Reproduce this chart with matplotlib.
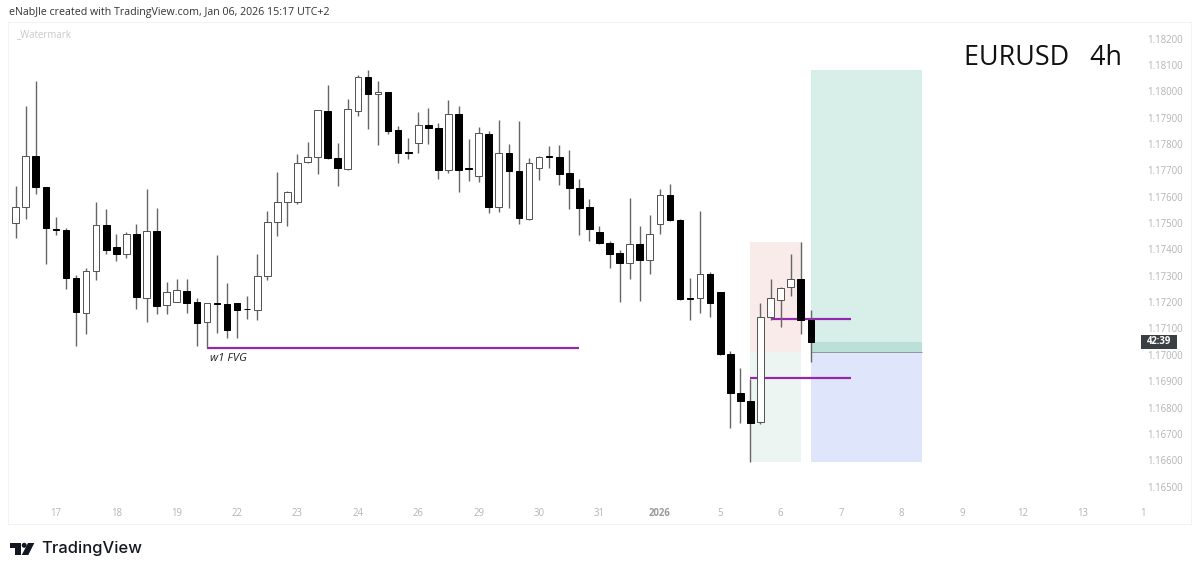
import matplotlib
matplotlib.use("Agg")
import matplotlib.pyplot as plt
from matplotlib.patches import Rectangle, Circle, Polygon

# candle values, in price * 1e5
opens = [117501,117560,117756,117638,117476,117474,117290,117158,117317,117494,117408,117384,117457,117217,117469,117188,117201,117242,117199,117123,
         117196,117192,117197,117174,117170,117298,117505,117581,117579,117731,117751,117927,117746,117705,117927,118053,117989,117998,117852,117770,
         117803,117871,117862,117700,117915,117709,117679,117839,117560,117765,117699,117517,117708,117755,117751,117689,117634,117561,117466,117423,
         117385,117348,117419,117358,117496,117607,117510,117215,117217,117308,117239,117003,116855,116823,116744,117144,117207,117256,117289,117132]
highs = [117641,117945,118040,117638,117522,117480,117303,117331,117580,117555,117459,117466,117495,117628,117557,117278,117287,117287,117217,117196,
         117378,117273,117198,117222,117383,117546,117694,117622,117761,117807,117929,118023,117805,117970,118063,118081,118041,117998,117870,117822,
         117920,117936,117879,117967,117944,117818,117863,117851,117890,117801,117888,117746,117753,117791,117796,117777,117669,117593,117490,117433,
         117397,117595,117487,117530,117629,117648,117514,117290,117547,117313,117239,117014,116950,116910,117196,117287,117256,117383,117427,117170]
lows = [117444,117517,117610,117346,117454,117250,117034,117079,117284,117384,117355,117369,117173,117126,117155,117155,117199,117158,117035,117025,
        117084,117063,117065,117137,117131,117284,117452,117489,117573,117729,117688,117745,117640,117700,117905,117858,117798,117837,117728,117745,
        117767,117801,117667,117691,117617,117660,117655,117537,117542,117557,117495,117511,117665,117708,117645,117555,117454,117433,117420,117329,
        117200,117286,117203,117305,117459,117509,117208,117133,117160,117144,117000,116723,116741,116594,116737,117132,117107,117224,117079,116972]
closes = [117560,117756,117638,117480,117474,117292,117161,117317,117494,117398,117384,117459,117220,117469,117185,117237,117245,117198,117120,117196,
          117193,117096,117170,117172,117299,117505,117581,117619,117729,117752,117928,117746,117708,117932,118053,117991,117998,117851,117766,117765,
          117872,117861,117703,117915,117700,117704,117842,117560,117765,117698,117519,117727,117752,117751,117688,117632,117559,117478,117423,117382,
          117348,117420,117358,117458,117607,117511,117213,117213,117308,117195,117003,116855,116824,116743,117144,117217,117255,117287,117134,117049]

price_ticks = [1.165, 1.166, 1.167, 1.168, 1.169, 1.170, 1.171, 1.172, 1.173, 1.174, 1.175,
               1.176, 1.177, 1.178, 1.179, 1.180, 1.181, 1.182]
time_ticks = [4, 10, 16, 22, 28, 34, 40, 46, 52, 58, 64, 70, 76, 82, 88, 94, 100, 106, 112]
time_labels = ["17", "18", "19", "22", "23", "24", "26", "29", "30", "31", "2026",
               "5", "6", "7", "8", "9", "12", "13", "1"]

# drawn levels and zones (bar index, price)
fvg_levels = [(19, 56, 1.17024), (75, 83, 1.17135), (73, 83, 1.16911)]
zone_bars = (73, 78)
zone_prices = (1.17427, 1.17012, 1.16593)
position_bars = (79, 90)
position_prices = (1.18081, 1.17049, 1.17012, 1.16593)

PX = 72 / 100
FONT = "Open Sans"
plt.rcParams["font.family"] = [FONT, "DejaVu Sans"]

fig = plt.figure(figsize=(12, 5.74), dpi=100, facecolor="white")
W, H = 1200, 574
L, R, T, B = 8, 1191, 22, 524
ax = fig.add_axes([L / W, 1 - B / H, (R - L) / W, (B - T) / H])
ax.set_xlim(-0.76, 116.77)
ax.set_ylim(1.16358, 1.18263)
for s in ax.spines.values():
    s.set_color("#f3f3f3")
    s.set_linewidth(1 * PX)
ax.set_facecolor("white")

# zones
zw = zone_bars[1] - zone_bars[0]
ax.add_patch(Rectangle((zone_bars[0], zone_prices[1]), zw, zone_prices[0] - zone_prices[1],
                       fc="#f9ebe9", ec="none", zorder=1))
ax.add_patch(Rectangle((zone_bars[0], zone_prices[2]), zw, zone_prices[1] - zone_prices[2],
                       fc="#edf5f3", ec="none", zorder=1))
pw = position_bars[1] - position_bars[0]
ax.add_patch(Rectangle((position_bars[0], position_prices[1]), pw, position_prices[0] - position_prices[1],
                       fc="#d8efe9", ec="none", zorder=1))
ax.add_patch(Rectangle((position_bars[0], position_prices[2]), pw, position_prices[1] - position_prices[2],
                       fc="#bbe0d8", ec="none", zorder=1))
ax.add_patch(Rectangle((position_bars[0], position_prices[3]), pw, position_prices[2] - position_prices[3],
                       fc="#dfe6fc", ec="none", zorder=1))
ax.hlines(position_prices[2], position_bars[0], position_bars[1], color="#8a9a9c", lw=1 * PX, zorder=2)

# levels
for x0, x1, y in fvg_levels:
    ax.hlines(y, x0, x1, color="#9527ad", lw=2.2 * PX, zorder=3)

# candles
for i, (o, h, l, c) in enumerate(zip(opens, highs, lows, closes)):
    o, h, l, c = o / 1e5, h / 1e5, l / 1e5, c / 1e5
    ax.vlines(i, l, h, color="#666666", lw=1.4 * PX, zorder=4)
    up = c >= o
    bot, top = min(o, c), max(o, c)
    ax.bar(i, top - bot, bottom=bot, width=0.66,
           facecolor="white" if up else "black",
           edgecolor="#555555" if up else "black",
           linewidth=1 * PX, zorder=5)

ax.text(19.35, 1.16986, "w1 FVG", style="italic", fontsize=8.2, color="#222222",
        ha="left", va="center", zorder=6)

# axes labels inside the frame
ax.yaxis.tick_right()
ax.set_yticks(price_ticks)
ax.set_yticklabels([f"{p:.5f}" for p in price_ticks])
ax.tick_params(axis="y", length=0, direction="in", pad=-44 * PX, labelsize=6.9, labelcolor="#b4b4b4")
for t in ax.get_yticklabels():
    t.set_ha("left")
ax.set_xticks(time_ticks)
ax.set_xticklabels(time_labels)
ax.tick_params(axis="x", length=0, direction="in", pad=-16 * PX, labelsize=6.9, labelcolor="#b4b4b4")
for t, s in zip(ax.get_xticklabels(), time_labels):
    if s == "2026":
        t.set_fontweight("bold")
        t.set_color("#9a9a9a")

# overlay in picture pixels for page furniture
ov = fig.add_axes([0, 0, 1, 1], facecolor="none")
ov.set_xlim(0, W)
ov.set_ylim(H, 0)
ov.axis("off")
ov.text(9, 13, "eNabJle created with TradingView.com, Jan 06, 2026 15:17 UTC+2",
        fontsize=7.65, color="#333333", va="center", ha="left")
ov.text(16, 35, "_Watermark", fontsize=6.9, color="#c8c8c8", va="center", ha="left")
ov.text(964, 58, "EURUSD   4h", fontsize=19.4, color="#111111", va="center", ha="left")

ov.add_patch(Rectangle((1141, 335), 36, 14, fc="#3a3f44", ec="none"))
ov.text(1159, 342, "42:39", fontsize=6.9, color="white", ha="center", va="center", fontweight="bold")

# TradingView mark
ov.add_patch(Polygon([(10, 543), (21, 543), (21, 555), (15, 555), (15, 548), (10, 548)], fc="#131722", ec="none"))
ov.add_patch(Circle((24.2, 545.3), 2.5, fc="#131722", ec="none"))
ov.add_patch(Polygon([(28, 543), (34.3, 543), (28.3, 555), (21.7, 555)], fc="#131722", ec="none"))
ov.text(41, 549, "TradingView", fontsize=11.9, color="#131722", va="center", ha="left",
        family="Inter", fontweight="medium")

fig.savefig("out.png", dpi=100, facecolor="white")
